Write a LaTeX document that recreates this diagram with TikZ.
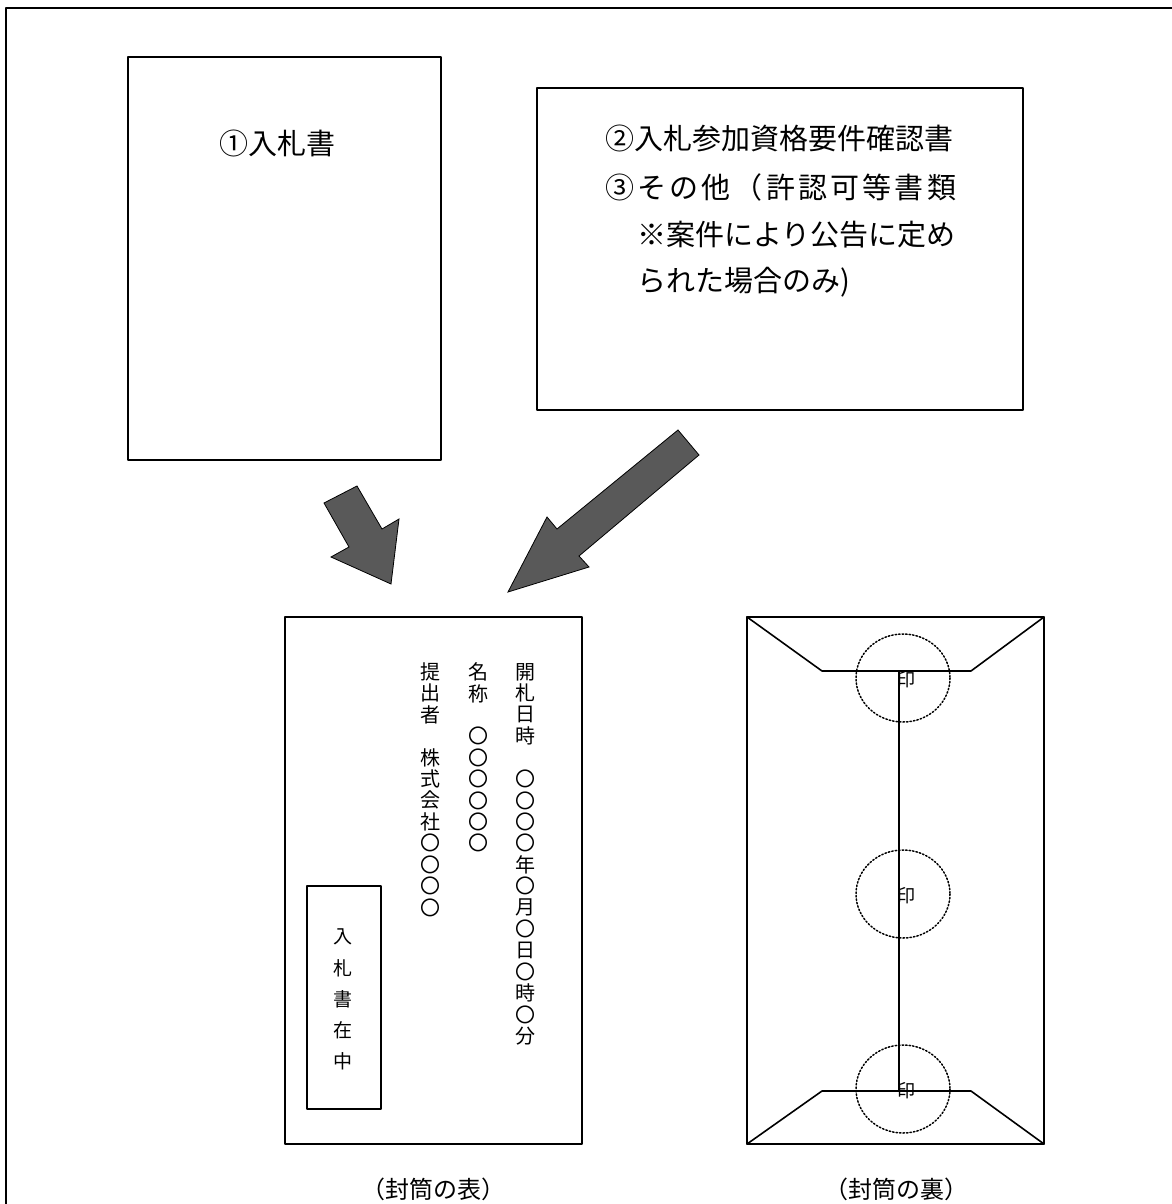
\documentclass[tikz,border=0pt]{standalone}
\usepackage{fontspec}
\setmainfont{Noto Sans CJK JP}
\usetikzlibrary{positioning}

\definecolor{arrowgray}{RGB}{89,89,89}
\tikzset{
  paper/.style={draw=black,line width=1.6pt},
  blockarrow/.style={draw=black,line width=0.8pt,fill=arrowgray,line join=miter},
  sealring/.style={draw=black,dotted,line width=1.5pt},
  doc/.style={inner sep=0pt,font=\fontsize{29}{29}\selectfont},
  tate/.style={inner sep=0pt,font=\fontsize{20}{20}\selectfont},
  caption/.style={inner sep=0pt,font=\fontsize{24}{24}\selectfont}
}

\begin{document}
\begin{tikzpicture}[x=1pt,y=-1pt,line cap=round,line join=round]
  \useasboundingbox (0,0) rectangle (1171,1204);
  % frame
  \draw[line width=2.2pt] (6,8) rectangle (1200,1240);

  % documents
  \draw[paper] (128,57) rectangle (441,460);
  \node[doc] (bid) at (277,143) {①入札書};
  \draw[paper] (537,88) rectangle (1023,410);
  \node[doc,anchor=west] (line1) at (605,138) {②入札参加資格要件確認書};
  \node[doc,anchor=west] (line2) at (605,187) {\addfontfeature{LetterSpace=11}③その他（許認可等書類};
  \node[doc,anchor=west] (line3) at (637,235) {※案件により公告に定め};
  \node[doc,anchor=west] (line4) at (637,282) {られた場合のみ)};

  % arrows
  \draw[blockarrow] (324,503) -- (357,486) -- (382,529) -- (399,519) -- (391,584) -- (331,557) -- (349,547) -- cycle;
  \draw[blockarrow] (678,430) -- (699,455) -- (579,556) -- (589,567) -- (508,592) -- (547,517) -- (557,529) -- cycle;

  % envelope, front
  \draw[paper] (285,617) rectangle (582,1144);
  \draw[paper] (307,886) rectangle (381,1109);
  \foreach \c [count=\i from 0] in {入,札,書,在,中}
    \node[tate,font=\fontsize{19}{19}\selectfont] (zaichu-\i) at (343,937+31*\i) {\c};
  \foreach \c [count=\i from 0] in {開,札,日,時,,〇,〇,〇,〇,年,〇,月,〇,日,〇,時,〇,分}
    \node[tate] (kaisatsu-\i) at (525,672+21.4*\i) {\c};
  \foreach \c [count=\i from 0] in {名,称,,〇,〇,〇,〇,〇,〇}
    \node[tate] (meisho-\i) at (478,672+21.4*\i) {\c};
  \foreach \c [count=\i from 0] in {提,出,者,,株,式,会,社,〇,〇,〇,〇}
    \node[tate] (teishutsu-\i) at (430,672+21.4*\i) {\c};
  \node[caption] (front) at (433,1189) {（封筒の表）};

  % envelope, back
  \draw[paper] (747,617) rectangle (1044,1144);
  \draw[paper] (747,617) -- (822,671) -- (971,671) -- (1044,617);
  \draw[paper] (747,1144) -- (822,1091) -- (971,1091) -- (1044,1144);
  \draw[paper] (899,671) -- (899,1091);
  \foreach \y/\n in {678/top,894/mid,1089/bottom} {
    \draw[sealring] (903,\y) ellipse [x radius=47,y radius=44];
    \node[inner sep=0pt,font=\fontsize{18}{18}\selectfont] (seal-\n) at (906,\y+2) {印};
  }
  \node[caption] (back) at (896,1189) {（封筒の裏）};
\end{tikzpicture}
\end{document}
